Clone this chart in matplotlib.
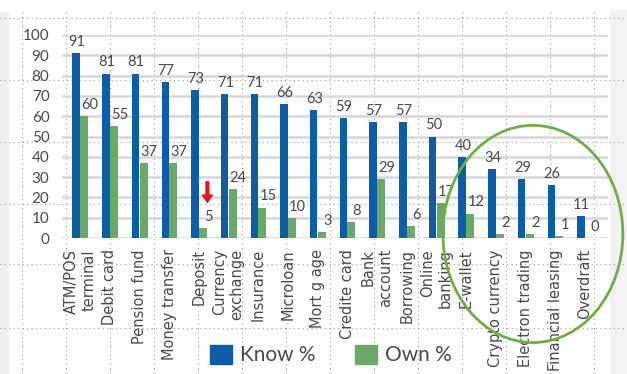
import numpy as np
import matplotlib.pyplot as plt
from matplotlib.patches import Ellipse, Rectangle, Patch
from matplotlib.font_manager import FontProperties

products = ["ATM/POS\nterminal", "Debit card", "Pension fund", "Money transfer",
            "Deposit", "Currency\nexchange", "Insurance", "Microloan", "Mort g age",
            "Credite card", "Bank\naccount", "Borrowing", "Online\nbanking",
            "E-wallet", "Crypto currency", "Electron trading", "Financial leasing",
            "Overdraft"]
know = [91, 81, 81, 77, 73, 71, 71, 66, 63, 59, 57, 57, 50, 40, 34, 29, 26, 11]
own = [60, 55, 37, 37, 5, 24, 15, 10, 3, 8, 29, 6, 17, 12, 2, 2, 1, 0]

BLUE = "#0b5ea6"
GREEN = "#6aa86c"
TEXT = "#4a4a4a"

plt.rcParams['font.family'] = ['Lato', 'DejaVu Sans']

W, H = 627, 374
fig = plt.figure(figsize=(W / 100, H / 100), dpi=100)

# page background: side panels and dotted layout guides (pixel coordinates)
bg = fig.add_axes([0, 0, 1, 1], zorder=-1)
bg.set_xlim(0, W)
bg.set_ylim(H, 0)
bg.axis('off')
bg.add_patch(Rectangle((0, 12), 9, H, color="#efefef", lw=0))
bg.add_patch(Rectangle((610, 10), W - 610, H, color="#f2f2f2", lw=0))
for gx in range(22, 600, 44):
    bg.plot([gx, gx], [12, H], color="#9a9a9a", lw=0.8, ls=(0, (1, 3)))
for gy in [18, 80, 142, 204, 264, 328]:
    bg.plot([0, W], [gy, gy], color="#9a9a9a", lw=0.8, ls=(0, (1, 3)))

ax = fig.add_axes([62 / W, (H - 238) / H, 546 / W, 203 / H])
ax.patch.set_alpha(0)

x = np.arange(len(products))
ax.bar(x - 0.13, know, width=0.25, color=BLUE, zorder=3)
ax.bar(x + 0.14, own, width=0.27, color=GREEN, zorder=3)

for xi, k, o in zip(x, know, own):
    ax.annotate(str(k), (xi - 0.13, k), xytext=(0.5, 3), textcoords='offset points',
                ha='center', va='bottom', fontsize=10.5, color=TEXT)
    ax.annotate(str(o), (xi + 0.14, o), xytext=(4, 3), textcoords='offset points',
                ha='center', va='bottom', fontsize=10.5, color=TEXT)

ax.set_xlim(-0.606, 17.78)
ax.set_ylim(0, 100)
ax.set_yticks(range(0, 101, 10))
ax.yaxis.grid(True, color="#d5d7dd", lw=1.8, zorder=0)
ax.set_axisbelow(True)
for s in ax.spines.values():
    s.set_visible(False)
ax.tick_params(length=0, labelsize=11, labelcolor=TEXT)
ax.tick_params(axis='y', pad=9)
ax.set_xticks(x)
ax.set_xticklabels([])

# category names, rotated
name_font = FontProperties(family='DejaVu Sans', size=10.5)
for xi, name in zip(x, products):
    ax.annotate(name, (xi, 0), xycoords=ax.get_xaxis_transform(),
                xytext=(0, -8), textcoords='offset points', rotation=90,
                ha='center', va='top', multialignment='right',
                fontproperties=name_font, color=TEXT, annotation_clip=False)

# red pointer over the deposit bar
ax.annotate('', xy=(4.29, 17), xytext=(4.29, 28),
            arrowprops=dict(facecolor="#e8141b", edgecolor='none',
                            width=3, headwidth=9, headlength=6.5),
            zorder=6, annotation_clip=False)

# highlight around the least-known products
ax.add_patch(Ellipse((15.25, 2), 6.06, 107, fill=False, edgecolor="#6fae45",
                     lw=2, clip_on=False, zorder=6))

handles = [Patch(color=BLUE, label="Know %"), Patch(color=GREEN, label="Own %")]
fig.legend(handles=handles, loc='center', bbox_to_anchor=(331 / W, 1 - 355 / H),
           ncol=2, frameon=False, fontsize=15, handlelength=1.05, handleheight=1.05,
           handletextpad=0.4, columnspacing=1.9, labelcolor=TEXT)

fig.savefig("out.png", dpi=100)
